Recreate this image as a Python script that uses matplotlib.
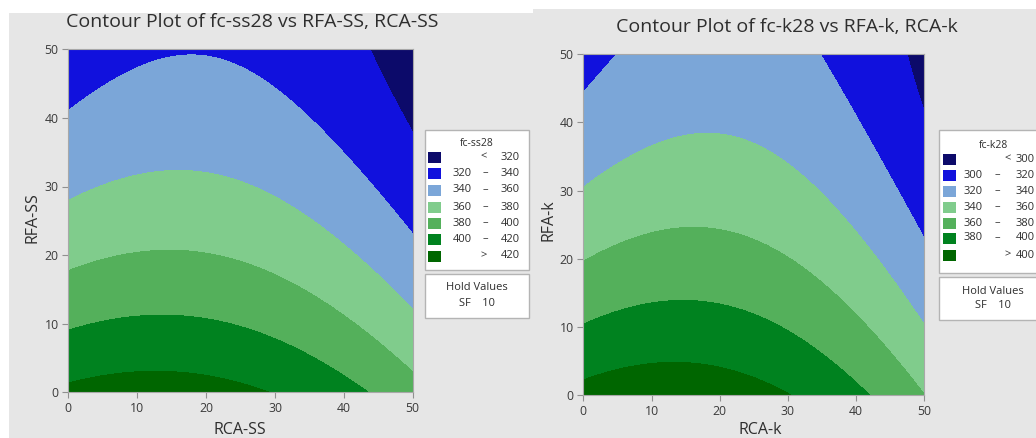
import numpy as np
import matplotlib.pyplot as plt
from matplotlib.patches import Rectangle

W, H = 1036, 438

# contour crossings (x, y, level) - left plot
ss_x = [0, 11.4, 24.9, 28.5,
        0, 12.3, 24.9, 33.2, 43.3,
        0, 14.3, 24.9, 33.2, 42.8, 50,
        0, 15.7, 24.9, 34.6, 42.8, 50,
        0, 8.5, 16.7, 24.9, 33.2, 42.8, 50,
        43.8, 50]
ss_y = [1.4, 3.1, 1.5, 0,
        9.0, 11.2, 9.8, 6.2, 0,
        17.7, 20.6, 19.3, 16.1, 9.3, 3.0,
        27.9, 32.3, 30.7, 25.1, 19.3, 12.2,
        41.2, 46.5, 49.3, 47.7, 41.9, 30.9, 23.2,
        50, 38.2]
ss_z = [420] * 4 + [400] * 5 + [380] * 6 + [360] * 6 + [340] * 7 + [320] * 2

# right plot
k_x = [0, 13.5, 25.2, 29.6,
       0, 13.9, 25.2, 33.5, 41.6,
       0, 14.9, 25.2, 33.5, 43.3, 49.6,
       0, 8.6, 17.8, 25.2, 33.5, 38.4, 44.7, 50,
       0, 4.5, 34.9, 43.3, 48.6, 50,
       47.4, 50]
k_y = [2.3, 4.7, 2.9, 0,
       10.4, 13.7, 12.2, 7.6, 0,
       19.6, 24.2, 22.5, 18.1, 8.8, 0,
       30.6, 35.2, 38.3, 36.2, 30.8, 25.0, 19.1, 11.3,
       44.8, 50, 50, 37.2, 24.5, 22.0,
       50, 40.9]
k_z = [400] * 4 + [380] * 5 + [360] * 6 + [340] * 8 + [320] * 6 + [300] * 2

ss_levels = [320, 340, 360, 380, 400, 420]
k_levels = [300, 320, 340, 360, 380, 400]
band_colors = ['#0c0a6a', '#1111dd', '#7ba6d8', '#80cc8c', '#54b05b', '#00821f', '#006600']

bg = '#e6e6e6'
txt = '#2e2e2e'
plt.rcParams['font.family'] = ['Open Sans', 'DejaVu Sans']


def fx(px):
    return px / W


def fy(py):
    return 1 - py / H


def fit_surface(x, y, z):
    x, y, z = map(np.asarray, (x, y, z))
    A = np.column_stack([np.ones_like(x), x, y, x ** 2, y ** 2, x * y])
    c = np.linalg.lstsq(A, z.astype(float), rcond=None)[0]
    gx, gy = np.meshgrid(np.linspace(0, 50, 300), np.linspace(0, 50, 300))
    gz = c[0] + c[1] * gx + c[2] * gy + c[3] * gx ** 2 + c[4] * gy ** 2 + c[5] * gx * gy
    return gx, gy, gz


def panel(rect, x, y, z, levels, title, tx, ty, xlab, ylab, xl, yl):
    ax = fig.add_axes(rect)
    gx, gy, gz = fit_surface(x, y, z)
    ax.contourf(gx, gy, gz, levels=[-1e6] + levels + [1e6], colors=band_colors)
    ax.set_xlim(0, 50)
    ax.set_ylim(0, 50)
    ax.set_xticks(range(0, 51, 10))
    ax.set_yticks(range(0, 51, 10))
    ax.tick_params(length=4, color='#909090', labelsize=8.8, labelcolor='#3a3a3a', pad=3)
    for s in ax.spines.values():
        s.set_color('#a8a8a8')
    fig.text(fx(tx), fy(ty), title, fontsize=14, color=txt, ha='center', va='center')
    fig.text(fx(xl[0]), fy(xl[1]), xlab, fontsize=11.5, color=txt, ha='center', va='center')
    fig.text(fx(yl[0]), fy(yl[1]), ylab, fontsize=11.5, color=txt, ha='center', va='center',
             rotation=90)
    return ax


def legend(box, hold, title, title_xy, sw_x, rows, lows, highs, lo_x, sep_x, lt_x, hi_x, hi_ha):
    fig.add_artist(Rectangle((fx(box[0]), fy(box[3])), fx(box[2] - box[0]), (box[3] - box[1]) / H,
                             transform=fig.transFigure, facecolor='white', edgecolor='#b4b4b4',
                             lw=1, zorder=1))
    fig.add_artist(Rectangle((fx(hold[0]), fy(hold[3])), fx(hold[2] - hold[0]), (hold[3] - hold[1]) / H,
                             transform=fig.transFigure, facecolor='white', edgecolor='#b4b4b4',
                             lw=1, zorder=1))
    fig.text(fx(title_xy[0]), fy(title_xy[1]), title, fontsize=7.5, color=txt, ha='center', va='center')
    for i, ry in enumerate(rows):
        fig.add_artist(Rectangle((fx(sw_x), fy(ry + 5.5)), fx(13), 11 / H, transform=fig.transFigure,
                                 facecolor=band_colors[i], edgecolor='none', zorder=2))
        if i == 0:
            fig.text(fx(lt_x), fy(ry), '<', fontsize=8, color=txt, ha='center', va='center')
        elif i == len(rows) - 1:
            fig.text(fx(lt_x), fy(ry), '>', fontsize=8, color=txt, ha='center', va='center')
        else:
            fig.text(fx(lo_x), fy(ry), lows[i], fontsize=8, color=txt, ha='right', va='center')
            fig.text(fx(sep_x), fy(ry), '\u2013', fontsize=8, color=txt, ha='center', va='center')
        fig.text(fx(hi_x), fy(ry), highs[i], fontsize=8, color=txt, ha=hi_ha, va='center')
    cx = title_xy[0]
    fig.text(fx(cx), fy(hold[1] + 14), 'Hold Values', fontsize=8, color=txt, ha='center', va='center')
    fig.text(fx(cx), fy(hold[1] + 29), 'SF    10', fontsize=8, color=txt, ha='center', va='center')


fig = plt.figure(figsize=(W / 100, H / 100), dpi=100, facecolor='white')
fig.add_artist(Rectangle((fx(9), 0), fx(533 - 9), fy(13), transform=fig.transFigure,
                         facecolor=bg, edgecolor='none', zorder=-2))
fig.add_artist(Rectangle((fx(533), 0), fx(W - 533), fy(9), transform=fig.transFigure,
                         facecolor=bg, edgecolor='none', zorder=-2))

panel([fx(68.3), fy(392.3), fx(412.7 - 68.3), (392.3 - 49.3) / H], ss_x, ss_y, ss_z, ss_levels,
      'Contour Plot of fc-ss28 vs RFA-SS, RCA-SS', 252, 22, 'RCA-SS', 'RFA-SS', (240, 430), (32, 218))
panel([fx(583.3), fy(395), fx(924.3 - 583.3), (395 - 54.3) / H], k_x, k_y, k_z, k_levels,
      'Contour Plot of fc-k28 vs RFA-k, RCA-k', 787, 27, 'RCA-k', 'RFA-k', (760, 430), (548, 220))

ss_lo = [''] + [str(v) for v in ss_levels[:-1]] + ['']
ss_hi = [str(v) for v in ss_levels] + [str(ss_levels[-1])]
k_lo = [''] + [str(v) for v in k_levels[:-1]] + ['']
k_hi = [str(v) for v in k_levels] + [str(k_levels[-1])]

legend((425, 130, 529, 270), (425, 274, 529, 318), 'fc-ss28', (477, 143), 428,
       [157, 173, 190, 207, 223, 239, 256], ss_lo, ss_hi, 472, 485, 484, 520, 'right')
legend((939, 130, 1060, 273), (939, 277, 1060, 320), 'fc-k28', (993, 145), 943,
       [159, 175, 191, 207, 223, 238, 255], k_lo, k_hi, 983, 997, 1008, 1016, 'left')

fig.savefig('out.png', dpi=100, facecolor='white')
